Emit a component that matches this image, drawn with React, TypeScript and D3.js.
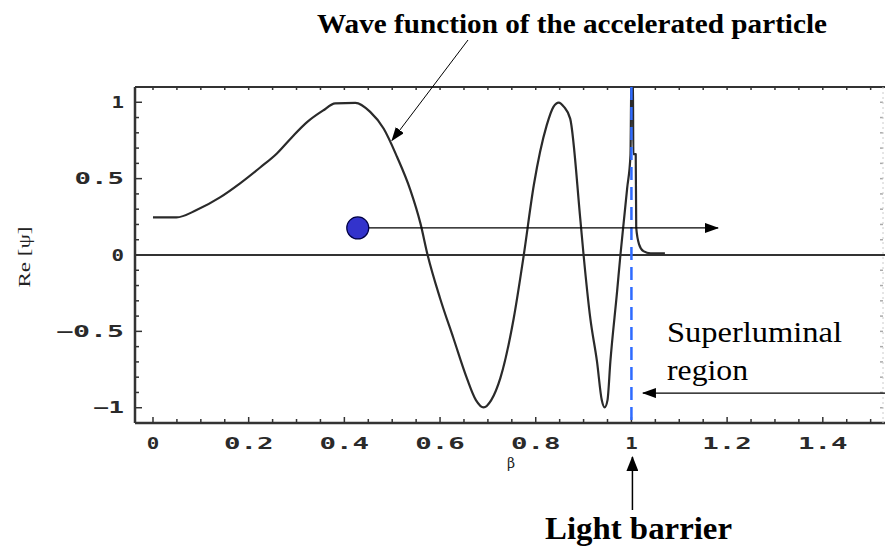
import React, { useEffect } from 'react';
import * as d3 from 'd3';

// ---- data ----
const betaValues = [
  0.0, 0.049, 0.091, 0.14, 0.182, 0.224, 0.259, 0.29, 0.322, 0.355, 0.381, 0.423, 0.454, 0.482,
  0.51, 0.538, 0.559, 0.574, 0.6, 0.628, 0.656, 0.675, 0.691, 0.707, 0.726, 0.754, 0.775, 0.796,
  0.823, 0.837, 0.848, 0.859, 0.872, 0.893, 0.9, 0.914, 0.928, 0.938, 0.944, 0.95, 0.956, 0.97,
  0.977, 0.984, 0.991, 0.998, 1.0, 1.003, 1.004, 1.009, 1.01, 1.016, 1.025, 1.04, 1.07,
];
const psiValues = [
  0.246, 0.246, 0.294, 0.377, 0.469, 0.573, 0.665, 0.77, 0.87, 0.945, 0.993, 0.996, 0.937, 0.828,
  0.643, 0.425, 0.207, 0, -0.283, -0.545, -0.806, -0.95, -0.998, -0.95, -0.806, -0.414, 0, 0.458,
  0.85, 0.97, 0.998, 0.97, 0.893, 0.24, 0, -0.414, -0.697, -0.95, -0.998, -0.95, -0.697, -0.24,
  0, 0.218, 0.435, 0.654, 1.2, 1.2, 0.66, 0.66, 0.18, 0.07, 0.025, 0.01, 0.01,
];
const xTickValues = [0, 0.2, 0.4, 0.6, 0.8, 1, 1.2, 1.4];
const xTickLabels = ['0', '0.2', '0.4', '0.6', '0.8', '1', '1.2', '1.4'];
const yTickValues = [-1, -0.5, 0, 0.5, 1];
const yTickLabels = ['\u22121', '\u22120.5', '0', '0.5', '1'];

// annotation anchors (data units)
const particle = { beta: 0.428, psi: 0.177, arrowTo: 1.181 };
const lightBarrier = 1.0;
const superluminalArrow = { psi: -0.904, from: 1.53, to: 1.024 };
const waveArrowTip = { beta: 0.4995, psi: 0.75 };

const W = 885;
const H = 547;
const L = 135, R = 885, T = 87, B = 423;

export default function App() {
  useEffect(() => {
    document.body.style.margin = '0';
  }, []);

  const x = d3.scaleLinear().domain([-0.0376, 1.53]).range([L, R]);
  const y = d3.scaleLinear().domain([-1.1, 1.1]).range([B, T]);

  const pts: [number, number][] = betaValues.map((b, i) => [b, psiValues[i]]);
  const line = d3
    .line<[number, number]>()
    .x((d) => x(d[0]))
    .y((d) => y(d[1]))
    .curve(d3.curveMonotoneX);

  const xMinor = d3.range(0, 1.5001, 0.05);
  const yMinor = d3.range(-1, 1.0001, 0.1);
  const isMajorX = (v: number) => Math.abs(v * 5 - Math.round(v * 5)) < 1e-6;
  const isMajorY = (v: number) => Math.abs(v * 2 - Math.round(v * 2)) < 1e-6;

  const labelLen = (s: string) => s.length * 18.5 - 6;
  const tickFont = {
    fontFamily: '"DejaVu Sans Mono", monospace',
    fontSize: 15,
    fontWeight: 700,
    fill: '#2a2a2a',
  } as React.CSSProperties;

  return (
    <svg width={W} height={H} style={{ position: 'absolute', left: 0, top: 0, background: '#fff' }}>
      <defs>
        <clipPath id="plot">
          <rect x={L} y={T} width={R - L} height={B - T} />
        </clipPath>
        <marker id="ah" viewBox="0 0 14 10" refX="13" refY="5" markerWidth="14" markerHeight="10"
          markerUnits="userSpaceOnUse" orient="auto">
          <path d="M0,0 L14,5 L0,10 z" fill="#000" />
        </marker>
        <marker id="ahBig" viewBox="0 0 15 12" refX="14" refY="6" markerWidth="15" markerHeight="12"
          markerUnits="userSpaceOnUse" orient="auto">
          <path d="M0,0 L15,6 L0,12 z" fill="#000" />
        </marker>
      </defs>

      {/* frame */}
      <line x1={L} x2={R} y1={T} y2={T} stroke="#333" strokeWidth={2} />
      <line x1={L} x2={R} y1={B} y2={B} stroke="#333" strokeWidth={2.5} />
      <line x1={L} x2={L} y1={T} y2={B} stroke="#333" strokeWidth={2.5} />

      {/* x ticks bottom & top */}
      {xMinor.map((v, i) => (
        <g key={'xt' + i}>
          <line x1={x(v)} x2={x(v)} y1={B} y2={B - (isMajorX(v) ? 6 : 4)} stroke="#333" strokeWidth={1.5} />
          <line x1={x(v)} x2={x(v)} y1={T} y2={T + 3} stroke="#333" strokeWidth={1.5} />
        </g>
      ))}
      {/* y ticks left & right */}
      {yMinor.map((v, i) => (
        <g key={'yt' + i}>
          <line x1={L} x2={L + (isMajorY(v) ? 7 : 4)} y1={y(v)} y2={y(v)} stroke="#333" strokeWidth={1.5} />
          <line x1={R - 2} x2={R - 5} y1={y(v)} y2={y(v)} stroke="#aaa" strokeWidth={1.5} />
        </g>
      ))}
      <line x1={R - 2} x2={R - 2} y1={T} y2={B} stroke="#ccc" strokeWidth={1} strokeDasharray="2,3" />

      {/* tick labels */}
      {xTickValues.map((v, i) => (
        <text key={'xl' + i} x={x(v)} y={449} textAnchor="middle" style={tickFont}
          textLength={labelLen(xTickLabels[i])} lengthAdjust="spacingAndGlyphs">
          {xTickLabels[i]}
        </text>
      ))}
      {yTickValues.map((v, i) => (
        <text key={'yl' + i} x={124} y={y(v) + 5.5} textAnchor="end" style={tickFont}
          textLength={labelLen(yTickLabels[i])} lengthAdjust="spacingAndGlyphs">
          {yTickLabels[i]}
        </text>
      ))}

      {/* axis labels */}
      <text x={511} y={468} textAnchor="middle" fontFamily='"DejaVu Serif", serif' fontSize={14} fill="#222">
        β
      </text>
      <text
        transform={`translate(30,${y(0) + 2}) rotate(-90)`}
        textAnchor="middle"
        fontFamily='"Liberation Serif", serif'
        fontSize={17}
        fill="#222"
        textLength={61}
        lengthAdjust="spacingAndGlyphs"
      >
        Re [ψ]
      </text>

      {/* zero line */}
      <line x1={L} x2={R} y1={y(0)} y2={y(0)} stroke="#333" strokeWidth={2} />

      {/* wave function */}
      <g clipPath="url(#plot)">
        <path d={line(pts) || ''} fill="none" stroke="#2a2a2a" strokeWidth={2.2} strokeLinejoin="round" />
      </g>

      {/* light barrier dashed line */}
      <line x1={x(lightBarrier)} x2={x(lightBarrier)} y1={T} y2={B} stroke="#2f6bff" strokeWidth={2.5}
        strokeDasharray="13,7" />

      {/* particle */}
      <line x1={x(particle.beta)} x2={x(particle.arrowTo)} y1={y(particle.psi)} y2={y(particle.psi)}
        stroke="#000" strokeWidth={1.2} markerEnd="url(#ah)" />
      <circle cx={x(particle.beta)} cy={y(particle.psi)} r={11} fill="#3333cc" stroke="#000044" strokeWidth={1.2} />

      {/* superluminal arrow */}
      <line x1={x(superluminalArrow.from)} x2={x(superluminalArrow.to)} y1={y(superluminalArrow.psi)}
        y2={y(superluminalArrow.psi)} stroke="#000" strokeWidth={1.2} markerEnd="url(#ah)" />
      <text x={667} y={342} fontFamily='"Liberation Serif", serif' fontSize={29} fill="#000"
        textLength={175} lengthAdjust="spacingAndGlyphs">
        Superluminal
      </text>
      <text x={667} y={380} fontFamily='"Liberation Serif", serif' fontSize={29} fill="#000"
        textLength={81} lengthAdjust="spacingAndGlyphs">
        region
      </text>

      {/* light barrier arrow */}
      <line x1={x(lightBarrier) + 1} x2={x(lightBarrier) + 1} y1={510} y2={457} stroke="#000" strokeWidth={1.5}
        markerEnd="url(#ahBig)" />
      <text x={545} y={539} fontFamily='"Liberation Serif", serif' fontSize={31} fontWeight={700} fill="#000"
        textLength={187} lengthAdjust="spacingAndGlyphs">
        Light barrier
      </text>

      {/* wave function label */}
      <line x1={468} y1={40} x2={x(waveArrowTip.beta)} y2={y(waveArrowTip.psi)} stroke="#000" strokeWidth={1}
        markerEnd="url(#ah)" />
      <text x={317} y={33} fontFamily='"Liberation Serif", serif' fontSize={27} fontWeight={700} fill="#000"
        textLength={510} lengthAdjust="spacingAndGlyphs">
        Wave function of the accelerated particle
      </text>
    </svg>
  );
}
